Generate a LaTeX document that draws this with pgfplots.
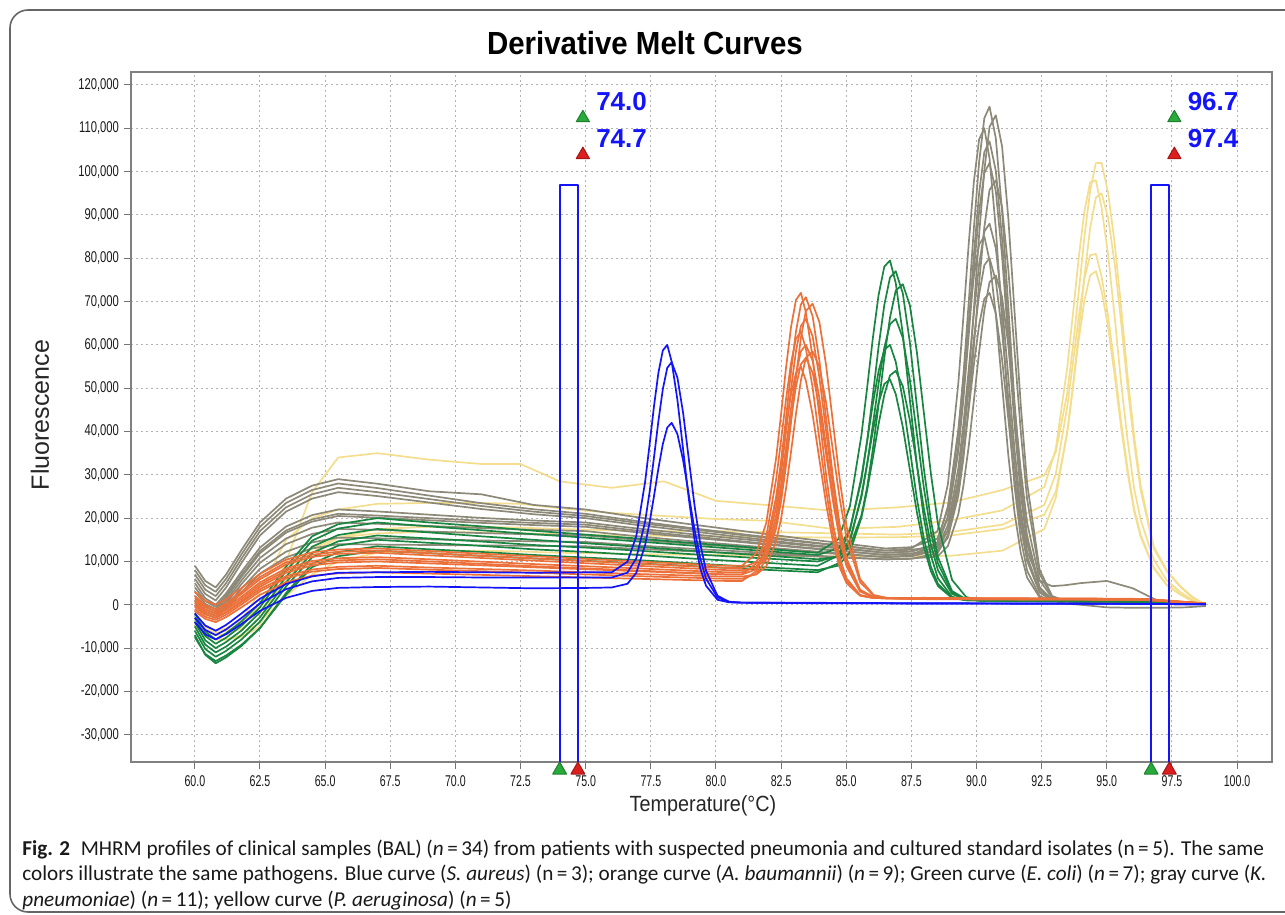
\documentclass[border=0pt]{standalone}
\usepackage{fontspec}
\setmainfont{Liberation Sans}
\newfontfamily\capfont{Carlito}
\usepackage{pgfplots}
\usepackage{pgfplotstable}
\pgfplotsset{compat=1.18}

\definecolor{cblue}{RGB}{20,20,250}
\definecolor{corange}{RGB}{236,112,58}
\definecolor{cgreen}{RGB}{24,134,64}
\definecolor{cgray}{RGB}{140,137,120}
\definecolor{cyellow}{RGB}{244,222,142}
\definecolor{tgreen}{RGB}{40,170,60}
\definecolor{tred}{RGB}{220,30,30}

% S. aureus (blue), n=3
\pgfplotstableread{
x b1 b2 b3
60.0 -2000 -3000 -4000
60.4 -4800 -5800 -6800
60.8 -6000 -7000 -8000
61.2 -4650 -5700 -6800
61.8 -1950 -3000 -4400
62.5 1400 300 -1400
63.5 4800 3600 1600
64.5 6550 5400 3200
65.5 7400 6200 3900
67 7500 6400 4100
69 7600 6400 4200
71 7500 6300 4000
73 7400 6300 3800
75.2 7500 6300 3900
76.0 7500 6300 4000
76.6 9930 7400 4840
76.94 15780 10710 7340
77.28 28350 19170 13760
77.45 36840 25940 18900
77.62 45760 33960 25010
77.79 53530 42390 31440
77.96 58710 49750 37090
78.13 60000 54700 40910
78.3 56140 56000 42000
78.52 47320 52460 39430
78.74 35820 44260 33320
78.96 24360 33530 25290
79.18 14930 22820 17260
79.4 8340 14000 10640
79.62 4370 7830 6010
80.06 1150 2080 1690
80.5 560 710 660
80.94 500 500 500
84 400 450 350
88 300 350 300
92 300 300 250
96 200 250 200
98.8 100 100 100
}\bluedata

% A. baumannii (orange), n=9
\pgfplotstableread{
x o1 o2 o3 o4 o5 o6 o7 o8 o9
60.0 3000 2000 1500 1000 500 0 -500 -1000 -1500
60.4 900 -100 -600 -1100 -1600 -2100 -2250 -2750 -3250
60.8 0 -1000 -1500 -2000 -2500 -3000 -3000 -3500 -4000
61.2 1300 350 -150 -700 -1200 -1700 -1800 -2300 -2850
61.8 3900 3050 2550 1900 1400 900 600 100 -550
62.5 7150 6400 5900 5150 4650 4150 3600 3100 2300
63.5 10400 9800 9300 8400 7900 7400 6600 6100 5200
64.5 12100 11550 11050 10100 9600 9100 8150 7650 6700
65.5 12750 12250 11750 10750 10250 9750 8750 8250 7250
67 13000 12500 12000 11000 10500 10000 9000 8500 7500
69 12400 11900 11400 10500 10000 9550 8600 8100 7200
71 11800 11300 10800 9950 9450 9100 8250 7750 6900
73 11200 10700 10200 9400 8900 8650 7900 7400 6600
75 10600 10100 9600 8900 8400 8200 7500 7000 6300
77 10000 9500 9000 8400 7900 7750 7100 6600 6000
79 9400 8900 8400 7850 7350 7300 6750 6250 5700
80.4 9000 8500 8000 7500 7000 7000 6500 6000 5500
81.0 9000 8500 8000 7500 7000 7000 6500 6000 5500
81.55 11900 9890 8580 8790 9560 8170 6990 7120 7750
81.93 18890 14040 10820 12670 15730 11680 8870 10480 13180
82.31 33910 24650 17620 22570 29000 20660 14610 19080 24840
82.5 44080 33160 23860 30510 38010 27860 19870 25970 32780
82.69 54770 43230 32220 39930 47490 36390 26920 34160 41150
82.88 64100 53830 42120 49840 55810 45370 35280 42790 48520
83.07 70360 63100 52540 58530 61430 53240 44080 50380 53520
83.26 72000 69330 61670 64380 63000 58540 51810 55520 55000
83.45 67500 71000 67820 66000 59170 60000 57030 57000 51740
83.71 57070 66600 69500 61960 50100 56330 58500 53590 43870
83.97 43440 56330 65220 52440 38210 47700 54960 45410 33520
84.23 29830 42890 55190 39970 26310 36390 46560 34680 23150
84.49 18650 29470 42040 27500 16510 25070 35530 23930 14600
84.75 10810 18420 28890 17230 9650 15770 24500 15070 8610
85.01 6090 10690 18080 10040 5520 9250 15420 8870 5000
85.53 2270 3480 5940 3340 2170 3170 5220 3090 2090
86.05 1570 1760 2250 1750 1560 1720 2130 1710 1550
86.57 1500 1500 1570 1500 1500 1500 1560 1500 1500
88 1500 1450 1600 1400 1500 1350 1550 1400 1300
91 1400 1350 1500 1300 1400 1250 1450 1300 1200
94 1400 1300 1450 1300 1350 1200 1400 1250 1200
96.5 1300 1200 1350 1200 1250 1100 1300 1150 1100
98.8 300 250 300 250 250 200 300 250 200
}\orangedata

% E. coli (green), n=7
\pgfplotstableread{
x g1 g2 g3 g4 g5 g6 g7
60.0 -2000 -3000 -4000 -5000 -6000 -7000 -7500
60.4 -6200 -7200 -8200 -9200 -10200 -11550 -11350
60.8 -8000 -9000 -10000 -11000 -12000 -13500 -13000
61.2 -6600 -7600 -8600 -9650 -10650 -12150 -11700
61.8 -3800 -4800 -5900 -6950 -7950 -9450 -9200
62.5 400 -600 -1750 -2900 -3900 -5400 -5350
63.5 8800 7800 6500 5200 4200 2700 2300
64.5 15800 14800 13400 11950 10950 9450 8700
65.5 18600 17600 16100 14650 13650 12150 11200
67 20000 19000 17500 16000 15000 13500 12500
69 19000 18100 16700 15300 14300 12800 11900
71 18100 17200 15800 14600 13600 12200 11300
73 17100 16300 15000 13800 12800 11500 10700
75 16200 15500 14200 13200 12200 10900 10150
77 15300 14600 13400 12500 11500 10300 9550
79 14300 13700 12500 11700 10700 9600 8950
81 13400 12800 11700 11000 10000 8900 8350
83 12400 11900 10900 10300 9300 8300 7750
83.9 12000 11500 10500 10000 9000 8000 7500
84.7 15160 12990 11110 11270 11380 9040 9570
85.14 22750 17410 13460 15050 17110 12140 14550
85.58 39040 28700 20570 24710 29400 20050 25240
85.8 50030 37720 27110 32420 37690 26370 32460
86.02 61520 48370 35840 41530 46370 33840 40020
86.24 71480 59530 46150 51060 53900 41670 46600
86.46 78050 69190 56950 59330 58870 48460 50970
86.68 79500 75570 66330 64780 60000 52960 52000
86.9 74240 77000 72550 66000 56070 54000 48640
87.17 62550 71920 74000 61650 47300 50490 41070
87.44 47400 60610 69180 51980 35910 42610 31220
87.71 32320 45940 58330 39430 24570 32380 21410
87.98 19950 31340 44230 26950 15260 22190 13350
88.25 11300 19350 30190 16700 8750 13820 7710
88.52 6090 10970 18660 9530 4830 7960 4320
89.06 1860 3160 5740 2850 1650 2510 1560
89.6 1070 1280 1800 1240 1060 1200 1050
90.14 1000 1000 1070 1000 1000 1000 1000
92 950 900 1000 900 950 850 900
94.5 850 800 900 800 850 750 800
96.5 800 750 850 750 800 700 750
98.8 200 200 250 200 200 150 200
}\greendata

% K. pneumoniae (gray), n=11
\pgfplotstableread{
x k1 k2 k3 k4 k5 k6 k7 k8 k9 k10 k11
60.0 9000 8000 7000 6000 5000 4000 3000 2000 1000 500 0
60.4 5500 4500 3500 2500 1500 850 200 -450 -1100 -1600 -2100
60.8 4000 3000 2000 1000 0 -500 -1000 -1500 -2000 -2500 -3000
61.2 7000 6000 5000 4000 2650 2100 1600 950 350 -350 -950
61.8 12750 11750 10750 9750 7700 7000 6500 5700 4850 3800 2950
62.5 19000 18000 17000 16000 13200 12400 11900 10800 9700 8300 7200
63.5 24500 23500 22500 21500 18050 17150 16650 15300 14000 12250 10950
64.5 27500 26500 25500 24500 20700 19700 19200 17800 16350 14400 13000
65.5 29000 28000 27000 26000 22000 21000 20500 19000 17500 15500 14000
67 27950 26950 26000 25100 21550 20600 20100 18700 17300 15350 13900
69 26200 25200 24400 23600 20800 20000 19500 18200 16900 15100 13800
71 25500 23450 22800 22100 20050 19400 18900 17700 16550 14850 13700
73 23050 22050 21500 20900 19450 18900 18400 17300 16250 14650 13600
75 22000 21000 20500 20000 19000 18500 18000 17000 16000 14500 13500
77 20200 19300 18900 18400 17600 17100 16700 15800 15000 13700 12900
79 18600 17750 17500 17000 16350 15850 15550 14700 14100 12950 12350
81 17050 16300 16100 15600 15150 14650 14450 13700 13250 12300 11850
83 15500 14900 14700 14200 13950 13450 13300 12700 12400 11600 11350
85 14100 13500 13500 13000 12850 12350 12300 11700 11600 10950 10850
86.5 13000 12500 12500 12000 12000 11500 11500 11000 11000 10500 10500
87.5 13300 12700 13000 12300 12300 11800 11800 11400 11200 10700 10600
88.5 15270 13460 16990 14110 14010 12330 13220 14430 12560 11130 11890
88.9 22070 17120 27810 20440 20010 15490 18350 22690 17200 13550 16040
89.3 39430 28270 51060 36600 35360 25100 31450 40420 29040 20880 26630
89.5 53330 38510 66800 49550 47640 33940 41940 52410 38520 27630 35100
89.7 69800 52200 83350 64880 62180 45750 54330 64990 49720 36620 45100
89.9 87110 68420 97800 81000 77460 59720 67340 75930 61450 47260 55570
90.1 102230 85470 107480 95080 90790 74410 78650 83220 71650 58390 64650
90.3 112360 100370 110000 104520 99710 87220 86170 85000 78410 68070 70640
90.5 115000 110360 103020 107000 102000 95790 88000 79510 80000 74490 72000
90.74 107700 113000 86860 100220 95490 98000 82300 67020 74780 76000 67250
90.98 90800 105850 65760 84520 80510 91760 69360 50750 63010 71040 56660
91.22 68740 89260 44680 63990 60960 77370 52520 34530 47720 59870 42920
91.46 46690 67580 27350 43490 41440 58590 35720 21210 32480 45350 29230
91.7 28570 45910 15220 26630 25390 39830 21930 11890 19970 30880 18000
91.94 15880 28100 7910 14830 14150 24420 12280 6280 11210 19000 10150
92.42 4060 8110 2000 3830 3680 7130 5500 1720 3050 5690 2820
92.9 1230 2030 900 1200 1180 1860 4300 880 1100 1620 1070
93.38 800 910 800 800 800 890 4500 800 800 870 300
94 700 800 700 700 700 750 5000 700 700 750 0
95 650 700 650 650 600 700 5500 650 650 700 -600
96 600 650 600 600 550 650 3800 600 600 650 -700
97 550 600 550 550 500 600 800 550 550 600 -700
98 500 500 450 450 400 500 600 450 450 500 -600
98.8 200 200 150 150 150 200 300 150 150 200 -300
}\graydata

% P. aeruginosa (yellow), n=5
\pgfplotstableread{
x y1 y2 y3 y4 y5
60.0 -5000 -3000 -4000 -4500 -3500
60.4 -7000 -5000 -6000 -7000 -5500
60.8 -8000 -6000 -7000 -8000 -6500
61.2 -8000 -5500 -6800 -8000 -6000
61.8 -7500 -3500 -5500 -7000 -4500
62.5 -5000 3000 -2000 -4000 0
63.5 10000 15000 6000 2000 8000
64.5 26000 20000 12000 7000 13000
65.5 34000 22000 15500 10000 15500
67 35000 23300 17500 12000 16500
69 33500 23500 18000 12500 16800
71 32500 23500 18000 12500 16700
72.5 32500 23300 17800 12300 16500
74 28500 22300 17500 12000 16300
76 27000 21200 17200 11800 16000
78 28500 20500 17000 11600 15900
80 24000 19800 17000 11500 15800
82 23000 19400 16800 11300 15700
84.5 21700 17500 16500 11200 15500
87 22500 18000 16200 11200 15600
89 23600 19500 16800 11300 16000
91 26500 21800 18500 12500 17500
92.6 29850 27180 23020 17500 20800
93.04 35200 35940 30220 24670 26080
93.48 48790 54720 45650 40060 39530
93.7 59570 67170 55870 50360 50250
93.92 72070 80010 66400 61060 62810
94.14 84900 90840 75250 70220 75840
94.36 95580 97540 80700 76090 86950
94.58 102020 98000 81000 77000 94030
94.8 102000 91730 75760 72470 95000
95.05 95120 80760 66660 64050 89300
95.3 83520 66570 54920 52980 78850
95.55 68680 51120 42160 40800 65170
95.8 52640 37870 31220 30310 50160
96.05 38920 26820 22100 21510 37240
96.3 27520 19560 16120 15710 26410
96.8 13480 10470 8620 8440 13020
97.3 7920 5610 4620 4530 7700
97.8 4400 3020 2490 2440 4280
98.3 1760 1000 800 800 1500
98.8 0 0 0 0 0
}\yellowdata

\begin{document}
\begin{tikzpicture}
\useasboundingbox (0,0) rectangle (642.5pt,-457.5pt);
\begin{scope}
\clip (0,0) rectangle (642.5pt,-457.5pt);
\draw[black!60, line width=0.8pt, rounded corners=9pt] (5pt,-5pt) rectangle (680pt,-456pt);
\end{scope}

\node[font=\bfseries\fontsize{16}{18}\selectfont, xscale=0.92] at (322.5pt,-21.5pt) {Derivative Melt Curves};

\begin{axis}[
    at={(65.5pt,-381pt)}, anchor=south west,
    scale only axis, width=570.5pt, height=345pt,
    xmin=57.55, xmax=101.34, ymin=-36300, ymax=123000,
    scaled y ticks=false, scaled x ticks=false,
    xtick={60,62.5,65,67.5,70,72.5,75,77.5,80,82.5,85,87.5,90,92.5,95,97.5,100},
    xticklabels={60.0,62.5,65.0,67.5,70.0,72.5,75.0,77.5,80.0,82.5,85.0,87.5,90.0,92.5,95.0,97.5,100.0},
    ytick={-30000,-20000,-10000,0,10000,20000,30000,40000,50000,60000,70000,80000,90000,100000,110000,120000},
    yticklabels={{-30,000},{-20,000},{-10,000},0,{10,000},{20,000},{30,000},{40,000},{50,000},{60,000},{70,000},{80,000},{90,000},{100,000},{110,000},{120,000}},
    tick align=outside, xtick pos=bottom, ytick pos=left,
    major tick length=3.5pt,
    tick style={black!55, line width=0.5pt},
    grid=major,
    grid style={black!30, line width=0.5pt, dash pattern=on 1pt off 1.5pt},
    axis line style={black!50, line width=0.7pt},
    tick label style={font=\fontsize{7.8}{8}\selectfont, text=black!90},
    xticklabel style={xscale=0.68},
    yticklabel style={xscale=0.72},
    clip=false,
    every axis plot/.append style={line width=0.85pt, line join=round},
]
\pgfplotsinvokeforeach{1,...,5}{\addplot[cyellow] table[x=x,y=y#1]{\yellowdata};}
\pgfplotsinvokeforeach{1,...,11}{\addplot[cgray] table[x=x,y=k#1]{\graydata};}
\pgfplotsinvokeforeach{1,...,7}{\addplot[cgreen] table[x=x,y=g#1]{\greendata};}
\pgfplotsinvokeforeach{1,...,9}{\addplot[corange] table[x=x,y=o#1]{\orangedata};}
\pgfplotsinvokeforeach{1,...,3}{\addplot[cblue] table[x=x,y=b#1]{\bluedata};}

% melt region markers
\addplot[cblue, line width=1pt] coordinates {(74.0,-36300) (74.0,97000) (74.7,97000) (74.7,-36300)};
\addplot[cblue, line width=1pt] coordinates {(96.7,-36300) (96.7,97000) (97.4,97000) (97.4,-36300)};

% triangles on the temperature axis
\addplot[only marks, mark=triangle*, mark size=4pt, mark options={fill=tgreen, draw=tgreen!75!black, line width=0.5pt, yshift=-4pt}] coordinates {(74.0,-36300) (96.7,-36300)};
\addplot[only marks, mark=triangle*, mark size=4pt, mark options={fill=tred, draw=tred!75!black, line width=0.5pt, yshift=-4pt}] coordinates {(74.7,-36300) (97.4,-36300)};
% triangles at the top
\addplot[only marks, mark=triangle*, mark size=3.8pt, mark options={fill=tgreen, draw=tgreen!75!black, line width=0.5pt, xshift=2.5pt}] coordinates {(74.7,112400) (97.4,112400)};
\addplot[only marks, mark=triangle*, mark size=3.8pt, mark options={fill=tred, draw=tred!75!black, line width=0.5pt, xshift=2.5pt}] coordinates {(74.7,103900) (97.4,103900)};

\node[anchor=west, text=cblue, font=\bfseries\fontsize{13}{14}\selectfont, inner sep=0pt, xshift=9pt] at (axis cs:74.7,116100) {74.0};
\node[anchor=west, text=cblue, font=\bfseries\fontsize{13}{14}\selectfont, inner sep=0pt, xshift=9pt] at (axis cs:74.7,107700) {74.7};
\node[anchor=west, text=cblue, font=\bfseries\fontsize{13}{14}\selectfont, inner sep=0pt, xshift=9pt] at (axis cs:97.4,116100) {96.7};
\node[anchor=west, text=cblue, font=\bfseries\fontsize{13}{14}\selectfont, inner sep=0pt, xshift=9pt] at (axis cs:97.4,107700) {97.4};
\end{axis}

\node[rotate=90, font=\fontsize{12.5}{14}\selectfont, text=black!85] at (20pt,-207.5pt) {Fluorescence};
\node[font=\fontsize{11}{13}\selectfont, xscale=0.9, text=black!85] at (351.5pt,-403pt) {Temperature(°C)};

\begin{scope}[every node/.style={anchor=base west, inner sep=0pt, font=\capfont\fontsize{10.6}{12}\selectfont, text=black!90}]
\node at (11pt,-427.5pt) {\textbf{Fig. 2}\enspace MHRM profiles of clinical samples (BAL) (\textit{n}\,=\,34) from patients with suspected pneumonia and cultured standard isolates (n\,=\,5). The same};
\node at (11pt,-440.3pt) {colors illustrate the same pathogens. Blue curve (\textit{S. aureus}) (n\,=\,3); orange curve (\textit{A. baumannii}) (\textit{n}\,=\,9); Green curve (\textit{E. coli}) (\textit{n}\,=\,7); gray curve (\textit{K.}};
\node at (11pt,-453pt) {\textit{pneumoniae}) (\textit{n}\,=\,11); yellow curve (\textit{P. aeruginosa}) (\textit{n}\,=\,5)};
\end{scope}
\end{tikzpicture}
\end{document}
